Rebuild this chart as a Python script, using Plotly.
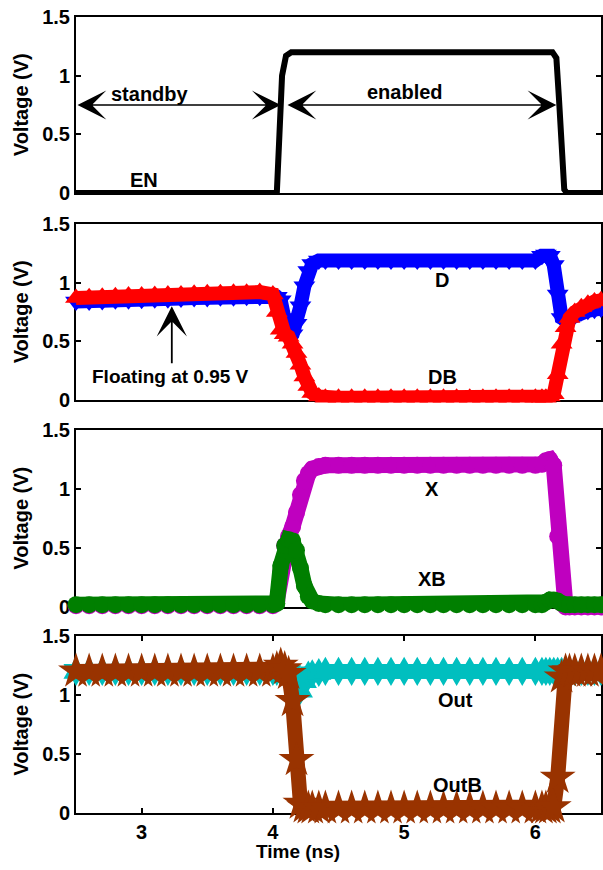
import plotly.graph_objects as go

# ---------------- data ----------------
EN_T = [2.5, 4.03, 4.05, 4.07, 4.10, 4.14, 6.13, 6.16, 6.18, 6.20, 6.22, 6.24, 6.5]
EN_V = [0.0, 0.0, 0.5, 1.0, 1.17, 1.2, 1.2, 1.15, 0.8, 0.3, 0.03, 0.0, 0.0]

TIME = [2.5, 2.6, 2.7, 2.8, 2.9, 3.0, 3.1, 3.2, 3.3, 3.4, 3.5, 3.6, 3.7, 3.8, 3.9, 4.0,
        4.03, 4.06, 4.09, 4.12, 4.15, 4.18, 4.21, 4.24, 4.27, 4.3, 4.35,
        4.4, 4.5, 4.6, 4.7, 4.8, 4.9, 5.0, 5.1, 5.2, 5.3, 5.4, 5.5, 5.6, 5.7, 5.8, 5.9, 6.0,
        6.05, 6.08, 6.11, 6.14, 6.17, 6.2, 6.23, 6.26, 6.3,
        6.35, 6.4, 6.45, 6.5]

D = [0.84, 0.84, 0.845, 0.85, 0.85, 0.855, 0.86, 0.86, 0.865, 0.87, 0.87, 0.875, 0.875, 0.88, 0.88, 0.88,
     0.88, 0.85, 0.7, 0.52, 0.56, 0.65, 0.8, 0.97, 1.1, 1.16, 1.19,
     1.19, 1.19, 1.19, 1.19, 1.19, 1.19, 1.19, 1.19, 1.19, 1.19, 1.19, 1.19, 1.19, 1.19, 1.19, 1.19, 1.19,
     1.23, 1.24, 1.23, 1.15, 0.9, 0.7, 0.68, 0.7, 0.72,
     0.75, 0.76, 0.77, 0.78]

DB = [0.87, 0.875, 0.88, 0.885, 0.89, 0.89, 0.895, 0.9, 0.9, 0.905, 0.91, 0.91, 0.915, 0.915, 0.92, 0.9,
      0.75, 0.6, 0.56, 0.54, 0.48, 0.4, 0.3, 0.2, 0.12, 0.06, 0.03,
      0.02, 0.02, 0.02, 0.02, 0.02, 0.02, 0.02, 0.02, 0.02, 0.02, 0.02, 0.02, 0.02, 0.02, 0.02, 0.02, 0.02,
      0.02, 0.02, 0.03, 0.05, 0.22, 0.48, 0.62, 0.7, 0.75,
      0.79, 0.82, 0.84, 0.85]

X = [0.01, 0.01, 0.01, 0.01, 0.01, 0.01, 0.01, 0.01, 0.01, 0.01, 0.01, 0.01, 0.01, 0.01, 0.01, 0.01,
     0.05, 0.3, 0.52, 0.6, 0.68, 0.8, 0.95, 1.07, 1.13, 1.17, 1.19,
     1.2, 1.2, 1.2, 1.2, 1.2, 1.2, 1.2, 1.2, 1.2, 1.2, 1.2, 1.2, 1.2, 1.2, 1.2, 1.2, 1.2,
     1.21, 1.24, 1.25, 1.2, 0.6, 0.03, 0.0, 0.0, 0.0,
     0.0, 0.0, 0.0, 0.0]

XB = [0.02, 0.02, 0.02, 0.02, 0.02, 0.02, 0.02, 0.02, 0.02, 0.02, 0.02, 0.02, 0.02, 0.02, 0.02, 0.02,
      0.03, 0.35, 0.52, 0.57, 0.56, 0.48, 0.33, 0.18, 0.09, 0.05, 0.03,
      0.02, 0.02, 0.02, 0.02, 0.02, 0.02, 0.02, 0.02, 0.02, 0.02, 0.02, 0.02, 0.02, 0.02, 0.02, 0.02, 0.02,
      0.02, 0.04, 0.06, 0.06, 0.05, 0.03, 0.02, 0.02, 0.02,
      0.02, 0.02, 0.02, 0.02]

OUT = [1.2, 1.2, 1.2, 1.2, 1.2, 1.2, 1.2, 1.2, 1.2, 1.2, 1.2, 1.2, 1.2, 1.2, 1.2, 1.2,
       1.2, 1.2, 1.2, 1.19, 1.15, 1.05, 1.04, 1.12, 1.17, 1.18, 1.19,
       1.2, 1.2, 1.2, 1.2, 1.2, 1.2, 1.2, 1.2, 1.2, 1.2, 1.2, 1.2, 1.2, 1.2, 1.2, 1.2, 1.2,
       1.2, 1.2, 1.2, 1.2, 1.2, 1.2, 1.2, 1.2, 1.2,
       1.2, 1.2, 1.2, 1.2]

OUTB = [1.2, 1.2, 1.2, 1.2, 1.2, 1.2, 1.2, 1.2, 1.2, 1.2, 1.2, 1.2, 1.2, 1.2, 1.2, 1.2,
        1.22, 1.25, 1.22, 1.18, 0.95, 0.45, 0.08, 0.05, 0.04, 0.04, 0.04,
        0.04, 0.04, 0.04, 0.04, 0.04, 0.04, 0.04, 0.04, 0.04, 0.04, 0.04, 0.04, 0.04, 0.04, 0.04, 0.04, 0.04,
        0.04, 0.04, 0.04, 0.05, 0.3, 1.15, 1.2, 1.2, 1.2,
        1.2, 1.2, 1.2, 1.2]

X_TICKS = [3, 4, 5, 6]
Y_TICKS = [0, 0.5, 1, 1.5]
Y_TICKTEXT = ["0", "0.5", "1", "1.5"]

FONT = "Liberation Sans, Arial, Helvetica, sans-serif"

fig = go.Figure()


def band(x, y, color, symbol, msize, lw, xa, ya):
    fig.add_trace(go.Scatter(
        x=x, y=y, mode="lines+markers", xaxis=xa, yaxis=ya,
        line=dict(color=color, width=lw),
        marker=dict(color=color, symbol=symbol, size=msize, line=dict(width=0)),
        cliponaxis=False, showlegend=False, hoverinfo="skip"))


# panel 1
fig.add_trace(go.Scatter(x=EN_T, y=EN_V, mode="lines", xaxis="x", yaxis="y",
                         line=dict(color="black", width=6), cliponaxis=False,
                         showlegend=False))
# panel 2
band(TIME, D, "#0000FF", "triangle-down", 19, 14, "x2", "y2")
band(TIME, DB, "#FF0000", "triangle-up", 19, 14, "x2", "y2")
# panel 3
band(TIME, X, "#BF00BF", "circle", 17, 16, "x3", "y3")
band(TIME, XB, "#007F00", "circle", 17, 16, "x3", "y3")
# panel 4
band(TIME, OUT, "#00BFBF", "hexagram", 22, 14, "x4", "y4")
band(TIME, OUTB, "#993300", "star", 27, 15, "x4", "y4")

domains = [[0.7789, 1.0], [0.5188, 0.7399], [0.2588, 0.4812], [0.0, 0.2224]]

layout = dict(
    width=603, height=870,
    margin=dict(l=76, r=0, t=17, b=57),
    paper_bgcolor="white", plot_bgcolor="white",
    font=dict(family=FONT, size=20, color="black", weight="bold"),
)

for i in range(4):
    sfx = "" if i == 0 else str(i + 1)
    last = (i == 3)
    layout["xaxis" + sfx] = dict(
        domain=[0, 1], anchor="y" + sfx, range=[2.5, 6.5],
        matches=None if i == 0 else "x",
        showline=True, linecolor="black", linewidth=2,
        mirror="ticks" if last else True,
        ticks="inside" if last else "", ticklen=5, tickwidth=1.5, tickcolor="black",
        tickvals=X_TICKS, showticklabels=last,
        tickfont=dict(size=20, family=FONT, weight="bold"),
        showgrid=False, zeroline=False, layer="below traces",
    )
    layout["yaxis" + sfx] = dict(
        domain=domains[i], anchor="x" + sfx, range=[0, 1.5],
        showline=True, linecolor="black", linewidth=2, mirror="ticks",
        ticks="inside", ticklen=5, tickwidth=1.5, tickcolor="black",
        tickvals=Y_TICKS, ticktext=Y_TICKTEXT,
        tickfont=dict(size=20, family=FONT, weight="bold"),
        showgrid=False, zeroline=False, layer="below traces",
    )

fig.update_layout(**layout)

ann = []


def label(text, x, y, xr, yr, size=20):
    ann.append(dict(text=text, x=x, y=y, xref=xr, yref=yr, showarrow=False,
                    font=dict(size=size, family=FONT, color="black", weight="bold"),
                    xanchor="center", yanchor="middle"))


label("EN", 3.02, 0.11, "x", "y")
label("standby", 3.06, 0.84, "x", "y")
label("enabled", 5.01, 0.86, "x", "y")
label("D", 5.29, 1.02, "x2", "y2")
label("DB", 5.29, 0.2, "x2", "y2")
label("Floating at 0.95 V", 3.22, 0.2, "x2", "y2", size=19)
label("X", 5.21, 1.0, "x3", "y3")
label("XB", 5.21, 0.24, "x3", "y3")
label("Out", 5.39, 0.96, "x4", "y4")
label("OutB", 5.41, 0.24, "x4", "y4")

# double arrows
for (x0, x1) in [(2.5, 4.06), (4.10, 6.16)]:
    ann.append(dict(text="", x=x1, y=0.75, ax=x0, ay=0.75, xref="x", yref="y",
                    axref="x", ayref="y", showarrow=True, arrowside="end+start",
                    arrowhead=3, startarrowhead=3, arrowsize=3, startarrowsize=3,
                    arrowwidth=1.6, arrowcolor="black", standoff=0, startstandoff=0))
# floating arrow
ann.append(dict(text="", x=3.23, y=0.8, ax=3.23, ay=0.3, xref="x2", yref="y2",
                axref="x2", ayref="y2", showarrow=True, arrowhead=3, arrowsize=2.8,
                arrowwidth=1.8, arrowcolor="black", standoff=0))

# axis titles
for d in domains:
    ann.append(dict(text="Voltage (V)", textangle=-90, x=(21 - 76) / 527, y=(d[0] + d[1]) / 2,
                    xref="paper", yref="paper", showarrow=False, xanchor="center",
                    yanchor="middle", font=dict(size=20, family=FONT, color="black", weight="bold")))
ann.append(dict(text="Time (ns)", x=(299 - 76) / 527, y=(813 - 851) / 796, xref="paper",
                yref="paper", showarrow=False, xanchor="center", yanchor="middle",
                font=dict(size=19, family=FONT, color="black", weight="bold")))

fig.update_layout(annotations=ann)
fig.write_html("out.html")
